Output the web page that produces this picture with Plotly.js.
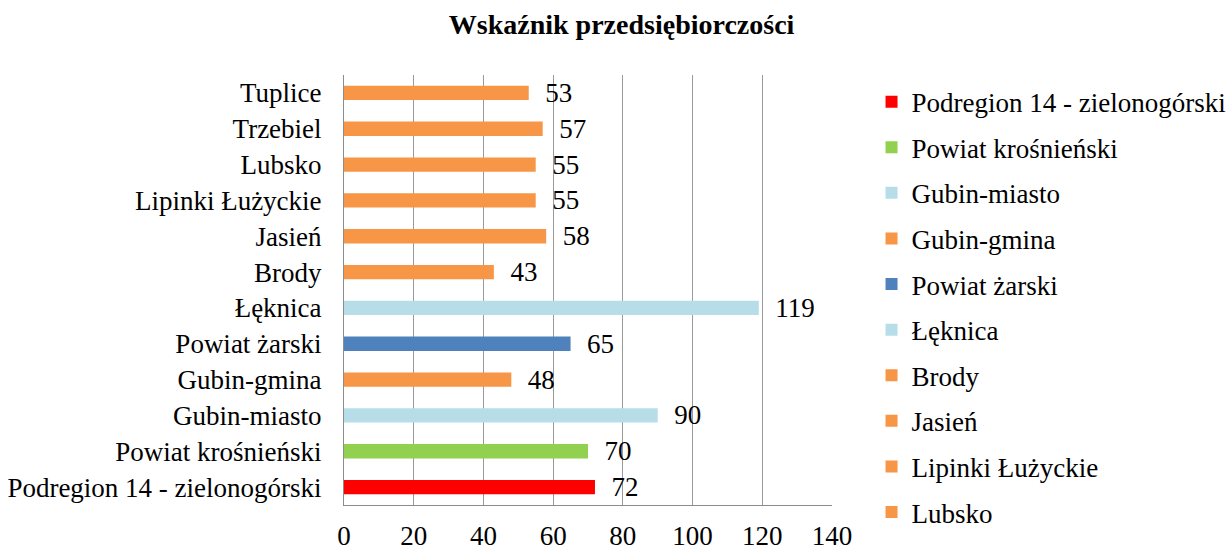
<!DOCTYPE html>
<html>
<head>
<meta charset="utf-8">
<script src="https://cdn.plot.ly/plotly-3.0.1.min.js"></script>
<style>html,body{margin:0;padding:0;background:#fff;}#chart{width:1226px;height:546px;}</style>
</head>
<body>
<div id="chart"></div>
<script>
const categories = ["Podregion 14 - zielonogórski","Powiat krośnieński","Gubin-miasto","Gubin-gmina","Powiat żarski","Łęknica","Brody","Jasień","Lipinki Łużyckie","Lubsko","Trzebiel","Tuplice"];
const values = [72, 70, 90, 48, 65, 119, 43, 58, 55, 55, 57, 53];
const colors = ["#FF0000","#92D050","#B7DEE8","#F79646","#4F81BD","#B7DEE8","#F79646","#F79646","#F79646","#F79646","#F79646","#F79646"];
const inLegend = [true,true,true,true,true,true,true,true,true,true,false,false];
const xTicks = [0,20,40,60,80,100,120,140];

const font = "Liberation Serif, Times New Roman, serif";
const FS = 27;
const traces = categories.map((c, i) => ({
  type: "bar",
  orientation: "h",
  name: c,
  y: [c],
  x: [values[i]],
  width: 0.4,
  marker: {color: colors[i]},
  texttemplate: "\u2002%{x}",
  textposition: "outside",
  constraintext: "none",
  textfont: {family: font, size: FS, color: "#000"},
  cliponaxis: false,
  showlegend: inLegend[i],
  legendgroup: "g" + i,
  hoverinfo: "x+y"
}));

const layout = {
  width: 1226, height: 546,
  margin: {l: 344, r: 394, t: 75, b: 41, autoexpand: false},
  paper_bgcolor: "#fff", plot_bgcolor: "#fff",
  barmode: "overlay",
  font: {family: font, size: FS, color: "#000"},
  title: {text: "<b>Wskaźnik przedsiębiorczości</b>", x: 0.507, xanchor: "center", y: 0.955, yanchor: "middle", font: {family: font, size: 28, color: "#000"}},
  xaxis: {range: [0, 140], tickvals: xTicks, ticktext: xTicks.map(String), showgrid: true, gridcolor: "#9a9a9a", gridwidth: 1,
          showline: true, linecolor: "#8c8c8c", linewidth: 1, zeroline: false, ticks: "", ticklabelstandoff: 7,
          automargin: false, tickfont: {family: font, size: FS, color: "#000"}},
  yaxis: {categoryorder: "array", categoryarray: categories, showline: true, linecolor: "#8c8c8c", linewidth: 1,
          showgrid: false, ticks: "", ticklabelstandoff: 16, automargin: false, tickfont: {family: font, size: FS, color: "#000"}},
  showlegend: true,
  legend: {x: 1.081, xanchor: "left", y: 0.994, yanchor: "top", traceorder: "grouped", tracegroupgap: 7.5,
           maxheight: 530, font: {family: font, size: FS, color: "#000"}, itemwidth: 30, bgcolor: "rgba(0,0,0,0)"}
};

Plotly.newPlot("chart", traces, layout, {displayModeBar: false, staticPlot: true});
</script>
</body>
</html>
